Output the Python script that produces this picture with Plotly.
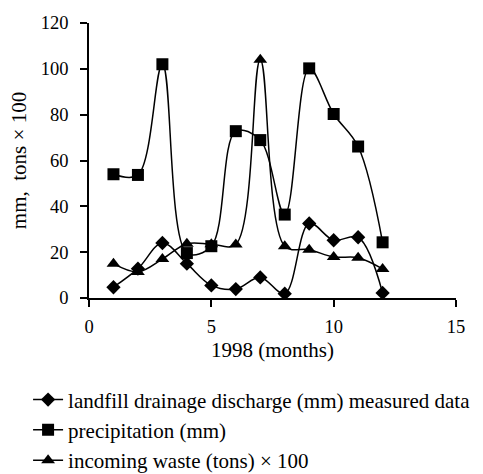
import plotly.graph_objects as go

months = [1, 2, 3, 4, 5, 6, 7, 8, 9, 10, 11, 12]
discharge = [4.7, 12.8, 24.0, 15.0, 5.5, 3.9, 9.0, 1.9, 32.5, 25.2, 26.5, 2.2]
precipitation = [54.0, 53.7, 102.0, 19.6, 22.6, 72.8, 68.9, 36.4, 100.2, 80.3, 66.1, 24.3]
waste = [15.0, 11.4, 17.0, 23.7, 23.5, 23.4, 104.0, 22.6, 21.1, 17.9, 17.6, 12.7]

names = [
    "landfill drainage discharge (mm) measured data",
    "precipitation (mm)",
    "incoming waste (tons) \u00d7 100",
]
symbols = ["diamond", "square", "triangle-up"]
sizes = [11, 12, 12]

FONT = "Liberation Serif"

fig = go.Figure()
for ys, nm, sym, sz in zip([discharge, precipitation, waste], names, symbols, sizes):
    fig.add_trace(go.Scatter(
        x=months, y=ys, name=nm, mode="lines+markers",
        line=dict(color="black", width=1.5, shape="spline", smoothing=1),
        marker=dict(symbol=sym, size=sz, color="black"),
    ))

tickfont = dict(family=FONT, size=18.5, color="black")
titlefont = dict(family=FONT, size=21, color="black")

fig.update_layout(
    width=483, height=474,
    margin=dict(l=89, r=27, t=23, b=176, autoexpand=False),
    paper_bgcolor="white", plot_bgcolor="white",
    font=dict(family=FONT, size=18, color="black"),
    showlegend=True,
    legend=dict(
        x=-0.166, y=-0.296, xanchor="left", yanchor="top",
        font=dict(family=FONT, size=21, color="black"),
        tracegroupgap=0,
        bgcolor="rgba(0,0,0,0)",
    ),
    xaxis=dict(
        range=[0, 15], tickvals=[0, 5, 10, 15], showgrid=False, zeroline=False,
        showline=True, linecolor="black", linewidth=1.5,
        ticks="outside", ticklen=7, tickcolor="black", tickwidth=1.5,
        tickfont=tickfont, ticklabelstandoff=4, automargin=False,
        title=dict(text="1998 (months)", standoff=6, font=titlefont),
    ),
    yaxis=dict(
        range=[0, 120], tickvals=[0, 20, 40, 60, 80, 100, 120], showgrid=False, zeroline=False,
        showline=True, linecolor="black", linewidth=1.5,
        ticks="outside", ticklen=7, tickcolor="black", tickwidth=1.5,
        tickfont=tickfont, ticklabelstandoff=8, automargin=False,
        title=dict(text="mm,\u00a0\u00a0tons \u00d7 100", standoff=8, font=titlefont),
    ),
)

fig.write_html(
    "out.html",
    config={"displayModeBar": False},
    post_script="document.body.style.margin='0';document.body.style.overflow='hidden';",
)
